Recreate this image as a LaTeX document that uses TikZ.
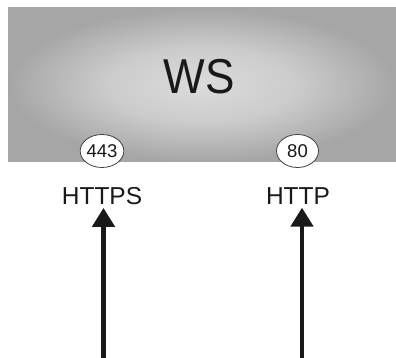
\documentclass[tikz,border=0pt]{standalone}
\usepackage{fontspec}
\setmainfont{Liberation Sans}
\usetikzlibrary{arrows.meta,shapes.geometric,positioning}
\pgfdeclareradialshading{wsglow}{\pgfpoint{0bp}{0bp}}{%
  color(0bp)=(black!14); color(12bp)=(black!20); color(25bp)=(black!35); color(50bp)=(black!35)}

\begin{document}
\begin{tikzpicture}[
  x=1pt,y=-1pt,
  port/.style={ellipse,draw=black!75,line width=.8pt,fill=white,
    minimum width=42pt,minimum height=33pt,inner sep=0pt,
    font=\fontsize{18.5}{18.5}\selectfont,text=black!90},
  proto/.style={inner sep=0pt,font=\fontsize{24.5}{24.5}\selectfont,text=black!90},
  link/.style={line width=4.5pt,black!90,-{Triangle[width=22pt,length=19pt]}}
]
  \useasboundingbox (0,0) rectangle (396,358);
  \shade[shading=wsglow] (8,8) rectangle (396,162);
  \node[inner sep=0pt,font=\fontsize{49}{49}\selectfont,text=black!90] (ws) at (199,77)
    {\scalebox{.9}[1]{WS}};
  \node[port] (p443) at (102,151) {443};
  \node[port] (p80) at (297.5,151) {80};
  \node[proto] (https) at (102,196) {HTTPS};
  \node[proto] (http) at (298,196) {HTTP};
  \coordinate (https-in) at (103.5,358);
  \coordinate (http-in) at (302,358);
  \draw[link,shorten >=3pt] (https-in) -- (https-in |- https.south);
  \draw[link,shorten >=3pt] (http-in) -- (http-in |- http.south);
\end{tikzpicture}
\end{document}
